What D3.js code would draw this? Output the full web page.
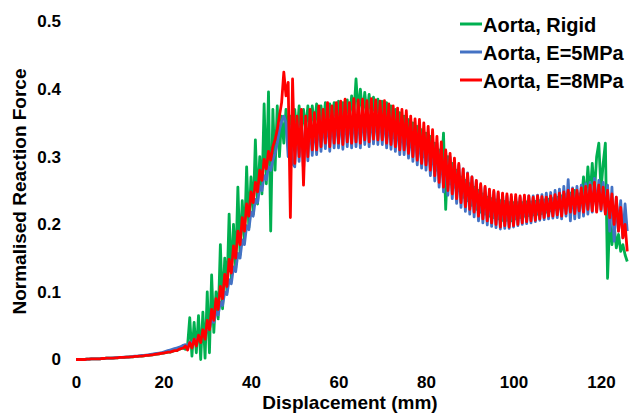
<!DOCTYPE html>
<html>
<head>
<meta charset="utf-8">
<script src="https://cdn.jsdelivr.net/npm/d3@7"></script>
<style>
  body { margin: 0; background: #fff; }
  svg { display: block; font-family: "Liberation Sans", Arial, sans-serif; font-weight: bold; }
  .tick text { font-size: 17px; font-weight: bold; fill: #000; }
</style>
</head>
<body>
<svg id="chart"></svg>
<script>
const width = 630;
const height = 415;

// sampling grid of the displacement (mm), one sample every 0.5 mm
const displacement = d3.range(0, 126.25, 0.5);

const xTicks = [0, 20, 40, 60, 80, 100, 120];
const yTicks = [0, 0.1, 0.2, 0.3, 0.4, 0.5];

const seriesNames = ['Aorta, Rigid', 'Aorta, E=5MPa', 'Aorta, E=8MPa'];

// values, 10 samples (5 mm) per row
const rigid = [
  0,0,0,0,0,0.0005,0.0005,0.001,0.001,0.001,
  0.001,0.001,0.0015,0.0015,0.002,0.002,0.002,0.002,0.0025,0.0025,
  0.003,0.003,0.003,0.0035,0.0035,0.004,0.004,0.0045,0.0045,0.005,
  0.005,0.0055,0.006,0.006,0.0065,0.007,0.0075,0.008,0.0085,0.009,
  0.0095,0.01,0.011,0.011,0.012,0.013,0.013,0.015,0.016,0.017,
  0.015,0.02,0.062,0.005,0.055,0.01,0.065,0.0,0.07,0.002,
  0.10,0.01,0.125,0.04,0.10,0.06,0.17,0.075,0.15,0.10,
  0.215,0.12,0.20,0.135,0.255,0.155,0.235,0.175,0.285,0.195,
  0.27,0.215,0.325,0.23,0.30,0.245,0.378,0.26,0.396,0.19,
  0.37,0.28,0.375,0.30,0.36,0.32,0.37,0.33,0.36,0.34,
  0.37,0.33,0.375,0.335,0.37,0.34,0.375,0.34,0.375,0.345,
  0.378,0.34,0.375,0.345,0.38,0.345,0.378,0.35,0.38,0.35,
  0.382,0.35,0.38,0.352,0.384,0.355,0.39,0.36,0.415,0.365,
  0.40,0.36,0.395,0.36,0.392,0.36,0.388,0.355,0.385,0.355,
  0.382,0.35,0.38,0.345,0.375,0.34,0.37,0.335,0.365,0.33,
  0.36,0.325,0.355,0.32,0.35,0.315,0.345,0.31,0.34,0.30,
  0.335,0.295,0.33,0.29,0.32,0.28,0.31,0.275,0.335,0.222,
  0.30,0.26,0.29,0.255,0.28,0.25,0.27,0.24,0.265,0.235,
  0.26,0.228,0.255,0.222,0.25,0.218,0.245,0.215,0.24,0.212,
  0.238,0.21,0.236,0.208,0.235,0.206,0.234,0.206,0.232,0.205,
  0.232,0.208,0.232,0.21,0.232,0.212,0.233,0.213,0.233,0.214,
  0.234,0.215,0.235,0.216,0.236,0.218,0.237,0.22,0.238,0.222,
  0.24,0.224,0.242,0.225,0.244,0.228,0.246,0.23,0.25,0.232,
  0.245,0.23,0.27,0.235,0.285,0.24,0.29,0.245,0.30,0.32,
  0.25,0.29,0.32,0.12,0.21,0.17,0.20,0.165,0.185,0.16,
  0.17,0.155,0.145
];

const e5 = [
  0,0,0,0,0,0.0005,0.0005,0.001,0.001,0.001,
  0.001,0.001,0.0015,0.0015,0.002,0.002,0.002,0.0025,0.0025,0.003,
  0.003,0.003,0.0035,0.0035,0.004,0.004,0.0045,0.005,0.005,0.0055,
  0.006,0.006,0.0065,0.007,0.0075,0.008,0.0085,0.009,0.0095,0.01,
  0.011,0.012,0.013,0.014,0.015,0.016,0.017,0.018,0.019,0.021,
  0.022,0.02,0.026,0.023,0.03,0.026,0.034,0.03,0.038,0.034,
  0.048,0.045,0.058,0.055,0.07,0.066,0.085,0.08,0.10,0.096,
  0.118,0.112,0.137,0.13,0.157,0.15,0.177,0.17,0.198,0.192,
  0.218,0.212,0.237,0.232,0.256,0.25,0.272,0.266,0.285,0.28,
  0.295,0.305,0.32,0.34,0.352,0.36,0.35,0.30,0.345,0.29,
  0.285,0.35,0.293,0.355,0.28,0.352,0.294,0.356,0.302,0.355,
  0.303,0.36,0.308,0.36,0.312,0.365,0.308,0.365,0.313,0.366,
  0.313,0.368,0.311,0.37,0.315,0.37,0.313,0.372,0.315,0.37,
  0.313,0.372,0.318,0.372,0.315,0.37,0.319,0.37,0.318,0.368,
  0.318,0.366,0.313,0.364,0.311,0.36,0.308,0.356,0.303,0.354,
  0.303,0.35,0.298,0.346,0.293,0.342,0.288,0.338,0.283,0.334,
  0.28,0.33,0.272,0.326,0.264,0.32,0.255,0.314,0.248,0.308,
  0.243,0.30,0.238,0.294,0.231,0.288,0.225,0.282,0.219,0.276,
  0.215,0.27,0.211,0.264,0.205,0.258,0.202,0.254,0.199,0.25,
  0.197,0.248,0.195,0.246,0.193,0.244,0.194,0.242,0.194,0.24,
  0.196,0.24,0.198,0.24,0.20,0.24,0.201,0.242,0.202,0.242,
  0.204,0.243,0.206,0.244,0.207,0.246,0.208,0.247,0.209,0.25,
  0.21,0.252,0.208,0.256,0.212,0.266,0.205,0.254,0.208,0.256,
  0.21,0.258,0.212,0.26,0.215,0.262,0.218,0.268,0.22,0.265,
  0.22,0.262,0.216,0.258,0.19,0.255,0.175,0.24,0.19,0.235,
  0.18,0.23,0.19
];

const e8 = [
  0,0,0,0,0,0.0005,0.0005,0.001,0.001,0.001,
  0.001,0.001,0.0015,0.0015,0.002,0.002,0.002,0.002,0.0025,0.0025,
  0.003,0.003,0.003,0.0035,0.0035,0.004,0.004,0.0045,0.0045,0.005,
  0.005,0.0055,0.006,0.006,0.0065,0.007,0.0075,0.008,0.0085,0.009,
  0.0095,0.01,0.011,0.011,0.012,0.013,0.013,0.015,0.016,0.017,
  0.02,0.014,0.025,0.017,0.03,0.02,0.036,0.025,0.044,0.03,
  0.058,0.044,0.074,0.058,0.09,0.074,0.108,0.09,0.126,0.108,
  0.148,0.128,0.168,0.15,0.19,0.17,0.21,0.19,0.23,0.212,
  0.248,0.232,0.262,0.248,0.28,0.265,0.296,0.282,0.308,0.295,
  0.315,0.325,0.34,0.36,0.38,0.425,0.39,0.41,0.21,0.415,
  0.29,0.36,0.30,0.37,0.258,0.36,0.30,0.37,0.31,0.365,
  0.31,0.375,0.315,0.37,0.32,0.38,0.315,0.375,0.32,0.38,
  0.32,0.382,0.318,0.385,0.322,0.38,0.32,0.386,0.322,0.384,
  0.32,0.385,0.325,0.383,0.322,0.386,0.326,0.384,0.325,0.382,
  0.325,0.383,0.32,0.378,0.318,0.375,0.315,0.372,0.31,0.37,
  0.31,0.368,0.305,0.36,0.30,0.356,0.295,0.355,0.29,0.35,
  0.288,0.345,0.28,0.34,0.272,0.33,0.262,0.322,0.255,0.31,
  0.25,0.305,0.245,0.298,0.238,0.29,0.232,0.282,0.226,0.275,
  0.222,0.27,0.218,0.265,0.212,0.26,0.208,0.256,0.205,0.252,
  0.202,0.25,0.20,0.248,0.196,0.246,0.198,0.245,0.196,0.244,
  0.198,0.244,0.20,0.242,0.202,0.243,0.204,0.242,0.205,0.24,
  0.206,0.242,0.208,0.241,0.21,0.24,0.212,0.242,0.212,0.244,
  0.214,0.246,0.212,0.248,0.216,0.25,0.218,0.252,0.216,0.25,
  0.22,0.254,0.218,0.256,0.222,0.258,0.22,0.262,0.218,0.258,
  0.222,0.255,0.215,0.25,0.21,0.245,0.20,0.24,0.19,0.225,
  0.18,0.20,0.16
];

const colors = ['#00b050', '#4472c4', '#ff0000'];

const svg = d3.select('#chart')
  .attr('width', width)
  .attr('height', height);

const x = d3.scaleLinear().domain([0, 126]).range([76, 627.25]);
const y = d3.scaleLinear().domain([0, 0.5]).range([359.5, 21.5]);

// axes: labels only, no lines
const yAxis = svg.append('g')
  .attr('transform', `translate(${x(0)},0)`)
  .call(d3.axisLeft(y).tickValues(yTicks).tickSize(0).tickPadding(15)
    .tickFormat(d => d === 0 ? '0' : d3.format('.1f')(d)));
yAxis.select('.domain').remove();

const xAxis = svg.append('g')
  .attr('transform', `translate(0,${y(0)})`)
  .call(d3.axisBottom(x).tickValues(xTicks).tickSize(0).tickPadding(16));
xAxis.select('.domain').remove();

svg.append('text')
  .attr('x', 350)
  .attr('y', 409)
  .attr('text-anchor', 'middle')
  .style('font-size', '19px')
  .text('Displacement (mm)');

svg.append('text')
  .attr('transform', 'translate(26,191.5) rotate(-90)')
  .attr('text-anchor', 'middle')
  .style('font-size', '19px')
  .text('Normalised Reaction Force');

const line = d3.line()
  .x((d, i) => x(displacement[i]))
  .y(d => y(d));

const series = [rigid, e5, e8];

svg.append('g')
  .selectAll('path')
  .data(series)
  .join('path')
    .attr('d', line)
    .attr('fill', 'none')
    .attr('stroke', (d, i) => colors[i])
    .attr('stroke-width', 2.8)
    .attr('stroke-linejoin', 'round');

// legend
const legend = svg.append('g')
  .selectAll('g')
  .data(seriesNames)
  .join('g')
    .attr('transform', (d, i) => `translate(460,${24 + i * 28})`);

legend.append('line')
  .attr('x1', 0)
  .attr('x2', 22)
  .attr('stroke', (d, i) => colors[i])
  .attr('stroke-width', 3);

legend.append('text')
  .attr('x', 23)
  .attr('y', 7.5)
  .style('font-size', '20px')
  .text(d => d);
</script>
</body>
</html>
